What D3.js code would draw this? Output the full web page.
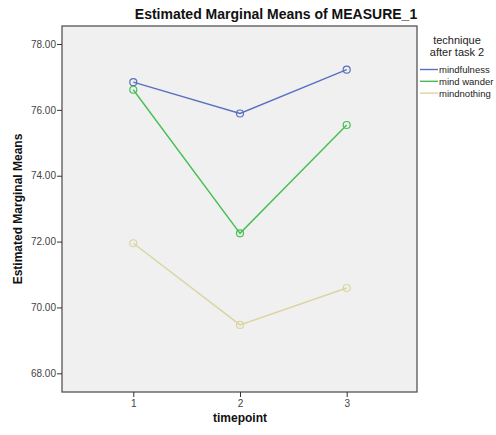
<!DOCTYPE html>
<html><head><meta charset="utf-8">
<script src="https://cdn.jsdelivr.net/npm/d3@7"></script>
<style>body{margin:0;background:#fff}</style>
</head><body>
<svg id="c" width="496" height="435"></svg>
<script>
const timepoints = [1, 2, 3];
const seriesNames = ["mindfulness", "mind wander", "mindnothing"];
const mindfulness = [76.84, 75.89, 77.22];
const mindWander = [76.61, 72.25, 75.54];
const mindnothing = [71.95, 69.47, 70.59];
const yTicks = [68, 70, 72, 74, 76, 78];
const colors = ["#5a6fc0", "#44c052", "#d9d5a1"];
const seriesValues = [mindfulness, mindWander, mindnothing];

const svg = d3.select("#c");
const L = 62, R = 417, T = 26, B = 392;
const x = d3.scalePoint().domain(timepoints).range([133.3, 346.7]);
const y = d3.scaleLinear().domain([68, 78]).range([373.3, 44]);

svg.append("rect").attr("x", L).attr("y", T).attr("width", R - L).attr("height", B - T)
  .attr("fill", "#f0f0f0").attr("stroke", "#555").attr("stroke-width", 1.3);

const font = "Arial, 'Liberation Sans', sans-serif";
// y axis
const ya = svg.append("g").attr("transform", `translate(${L},0)`)
  .call(d3.axisLeft(y).tickValues(yTicks).tickFormat(d3.format(".2f")).tickSize(5).tickSizeOuter(0));
ya.select(".domain").remove();
ya.selectAll("line").attr("stroke", "#333");
ya.selectAll("text").attr("font-family", font).attr("font-size", 10).attr("fill", "#444").attr("x", -6);
// x axis
const xa = svg.append("g").attr("transform", `translate(0,${B})`)
  .call(d3.axisBottom(x).tickSize(5).tickSizeOuter(0));
xa.select(".domain").remove();
xa.selectAll("line").attr("stroke", "#333");
xa.selectAll("text").attr("font-family", font).attr("font-size", 10).attr("fill", "#444").attr("y", 8);

const line = d3.line().x((d, i) => x(timepoints[i])).y(d => y(d));
seriesValues.forEach((vals, s) => {
  svg.append("path").attr("d", line(vals)).attr("fill", "none")
    .attr("stroke", colors[s]).attr("stroke-width", 1.4);
  svg.selectAll(null).data(vals).enter().append("circle")
    .attr("cx", (d, i) => x(timepoints[i])).attr("cy", d => y(d)).attr("r", 3.5)
    .attr("fill", "none").attr("stroke", colors[s]).attr("stroke-width", 1.2);
});

svg.append("text").attr("x", 276).attr("y", 19).attr("text-anchor", "middle")
  .attr("font-family", font).attr("font-weight", "bold").attr("font-size", 14).attr("fill", "#111")
  .text("Estimated Marginal Means of MEASURE_1");
svg.append("text").attr("x", 240).attr("y", 422).attr("text-anchor", "middle")
  .attr("font-family", font).attr("font-weight", "bold").attr("font-size", 12).attr("fill", "#111")
  .text("timepoint");
svg.append("text").attr("transform", "translate(22,209) rotate(-90)").attr("text-anchor", "middle")
  .attr("font-family", font).attr("font-weight", "bold").attr("font-size", 12).attr("fill", "#111")
  .text("Estimated Marginal Means");

// legend
svg.append("text").attr("x", 457).attr("y", 44).attr("text-anchor", "middle")
  .attr("font-family", font).attr("font-size", 11).attr("fill", "#222").text("technique");
svg.append("text").attr("x", 457).attr("y", 56).attr("text-anchor", "middle")
  .attr("font-family", font).attr("font-size", 11).attr("fill", "#222").text("after task 2");
seriesNames.forEach((n, i) => {
  const yy = 69.5 + i * 11.8;
  svg.append("line").attr("x1", 420).attr("x2", 438).attr("y1", yy).attr("y2", yy)
    .attr("stroke", colors[i]).attr("stroke-width", 1.4);
  svg.append("text").attr("x", 439).attr("y", yy + 3.5).attr("font-family", font)
    .attr("font-size", 9.5).attr("fill", "#222").text(n);
});
</script>
</body></html>
